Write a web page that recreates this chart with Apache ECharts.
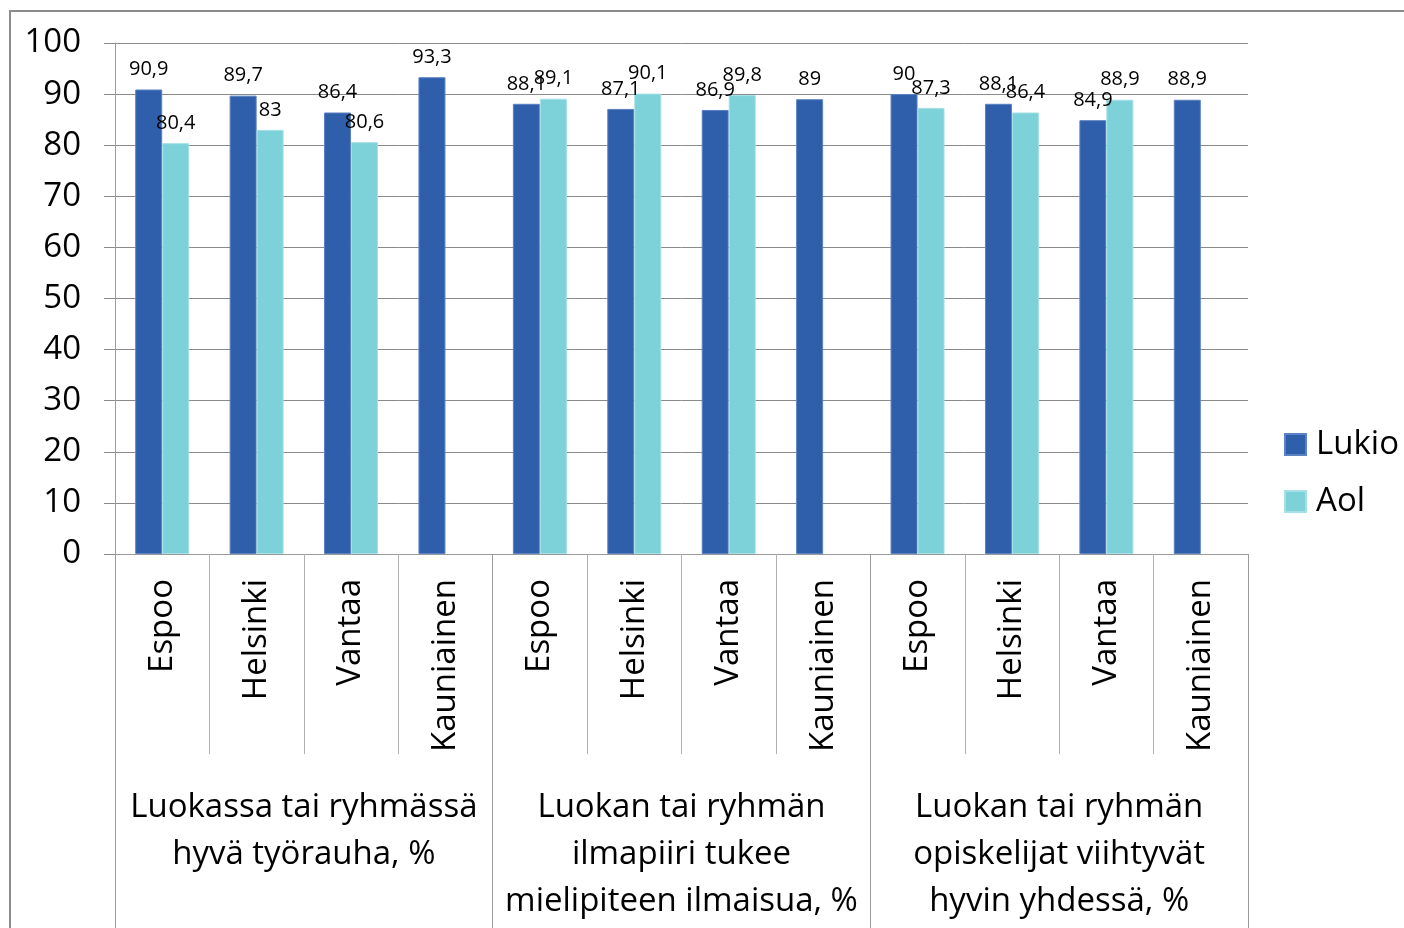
<!DOCTYPE html>
<html>
<head>
<meta charset="utf-8">
<script src="https://cdn.jsdelivr.net/npm/echarts@6/dist/echarts.min.js"></script>
<style>
html,body{margin:0;padding:0;background:#fff;}
#frame{position:absolute;left:9px;top:10px;width:1420px;height:940px;border:2px solid #8c8c8c;box-sizing:border-box;}
#chart{position:absolute;left:0;top:0;width:1404px;height:928px;}
</style>
</head>
<body>
<div id="frame"></div>
<div id="chart"></div>
<script>
const cities = ['Espoo','Helsinki','Vantaa','Kauniainen','Espoo','Helsinki','Vantaa','Kauniainen','Espoo','Helsinki','Vantaa','Kauniainen'];
const groups = ['Luokassa tai ryhmässä\nhyvä työrauha, %','Luokan tai ryhmän\nilmapiiri tukee\nmielipiteen ilmaisua, %','Luokan tai ryhmän\nopiskelijat viihtyvät\nhyvin yhdessä, %'];
const lukio = [90.9, 89.7, 86.4, 93.3, 88.1, 87.1, 86.9, 89, 90, 88.1, 84.9, 88.9];
const aol = [80.4, 83, 80.6, null, 89.1, 90.1, 89.8, null, 87.3, 86.4, 88.9, null];
const seriesNames = ['Lukio','Aol'];

const FONT = '"Open Sans", sans-serif';
const chart = echarts.init(document.getElementById('chart'));
const fmt = p => String(p.value).replace('.', ',');
const labelCfg = {show:true, position:'top', distance:10, fontSize:20, color:'#000', fontFamily:FONT, formatter: fmt};

chart.setOption({
  animation:false,
  textStyle:{fontFamily:FONT},
  grid:{left:115, right:156, top:43, bottom:374},
  legend:{
    orient:'vertical', right:0, top:423, itemWidth:21, itemHeight:21, itemGap:24,
    icon:'rect',
    textStyle:{fontSize:33, color:'#000', fontFamily:FONT, padding:[0,0,0,5]},
    data: seriesNames
  },
  xAxis:[
    {type:'category', data:cities, position:'bottom',
     axisLine:{lineStyle:{color:'#9a9a9a', width:1}},
     axisTick:{show:true, length:200, interval:0, lineStyle:{color:'#b0b0b0'}},
     axisLabel:{rotate:90, interval:0, margin:25, fontSize:33, color:'#000', fontFamily:FONT}
    },
    {type:'category', data:groups, position:'bottom',
     axisLine:{lineStyle:{color:'#9a9a9a', width:1}},
     axisTick:{show:true, length:374, interval:0, lineStyle:{color:'#9a9a9a'}},
     axisLabel:{interval:0, margin:230, fontSize:33, lineHeight:47, color:'#000', fontFamily:FONT, align:'center'}
    }
  ],
  yAxis:{
    type:'value', min:0, max:100, interval:10,
    axisLine:{show:true, lineStyle:{color:'#9a9a9a'}},
    axisTick:{show:true, length:11, lineStyle:{color:'#8a8a8a'}},
    splitLine:{lineStyle:{color:'#8a8a8a', width:1}},
    axisLabel:{fontSize:33, color:'#000', margin:34, fontFamily:FONT}
  },
  series:[
    {name:seriesNames[0], type:'bar', data:lukio, barWidth:27, barGap:0,
     itemStyle:{color:'#2F5FAA', borderColor:'#5b82c2', borderWidth:1}, label:labelCfg},
    {name:seriesNames[1], type:'bar', data:aol, barWidth:27, barGap:0,
     itemStyle:{color:'#7DD1D8', borderColor:'#a6e0e5', borderWidth:1}, label:labelCfg}
  ]
});
</script>
</body>
</html>
